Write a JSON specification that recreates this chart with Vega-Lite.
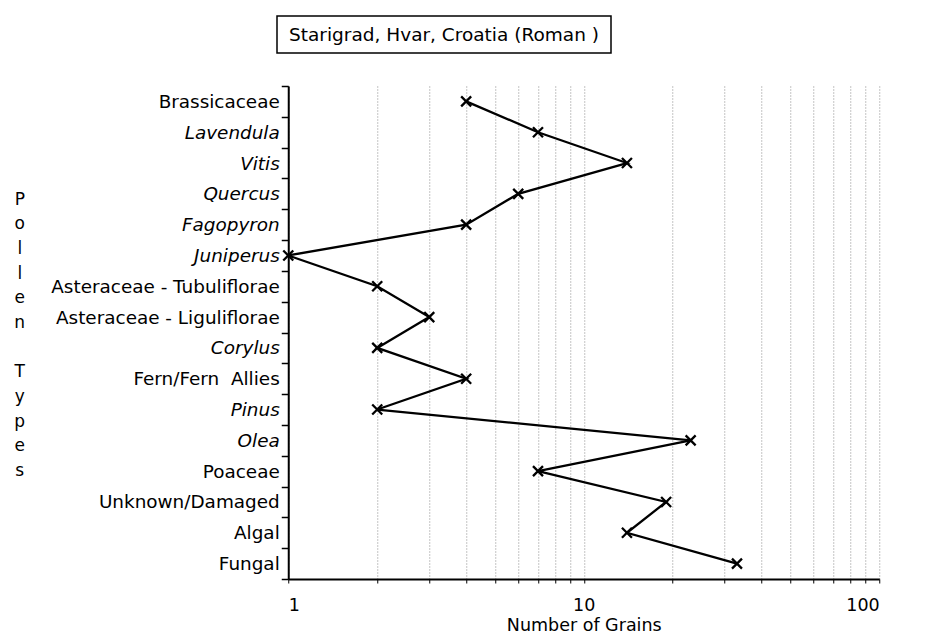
{
  "$schema": "https://vega.github.io/schema/vega-lite/v6.json",
  "background": "white",
  "padding": {"left": 13, "top": 15, "right": 10, "bottom": 0},
  "config": {"view": {"stroke": null}, "font": "DejaVu Sans"},
  "spacing": 23,
  "center": true,
  "vconcat": [
    {
      "spacing": 0,
      "hconcat": [
        {
          "width": 334,
          "height": 37,
          "view": {"stroke": "black", "strokeWidth": 1.5},
          "data": {"values": [{"t": "Starigrad, Hvar, Croatia (Roman )"}]},
          "mark": {"type": "text", "fontSize": 18.5, "font": "DejaVu Sans", "color": "black"},
          "encoding": {"text": {"field": "t", "type": "nominal"}}
        },
        {
          "width": 279,
          "height": 37,
          "data": {"values": [{"t": ""}]},
          "mark": {"type": "text", "opacity": 0},
          "encoding": {"text": {"field": "t", "type": "nominal"}}
        }
      ]
    },
    {
      "width": 591,
      "height": 493,
      "data": {
        "values": [
          {"rank": 1, "type": "Brassicaceae", "grains": 4},
          {"rank": 2, "type": "Lavendula", "grains": 7},
          {"rank": 3, "type": "Vitis", "grains": 14},
          {"rank": 4, "type": "Quercus", "grains": 6},
          {"rank": 5, "type": "Fagopyron", "grains": 4},
          {"rank": 6, "type": "Juniperus", "grains": 1},
          {"rank": 7, "type": "Asteraceae - Tubuliflorae", "grains": 2},
          {"rank": 8, "type": "Asteraceae - Liguliflorae", "grains": 3},
          {"rank": 9, "type": "Corylus", "grains": 2},
          {"rank": 10, "type": "Fern/Fern\u00a0 Allies", "grains": 4},
          {"rank": 11, "type": "Pinus", "grains": 2},
          {"rank": 12, "type": "Olea", "grains": 23},
          {"rank": 13, "type": "Poaceae", "grains": 7},
          {"rank": 14, "type": "Unknown/Damaged", "grains": 19},
          {"rank": 15, "type": "Algal", "grains": 14},
          {"rank": 16, "type": "Fungal", "grains": 33}
        ]
      },
      "encoding": {
        "x": {
          "field": "grains",
          "type": "quantitative",
          "scale": {"type": "log", "domain": [1, 100], "nice": false},
          "axis": {
            "values": [1, 2, 3, 4, 5, 6, 7, 8, 9, 10, 20, 30, 40, 50, 60, 70, 80, 90, 100],
            "labelExpr": "datum.value == 1 || datum.value == 10 || datum.value == 100 ? format(datum.value, 'd') : ''",
            "grid": true,
            "gridDash": [1, 2],
            "gridColor": "#888888",
            "gridWidth": 1,
            "domainColor": "black",
            "domainWidth": 2,
            "tickColor": "black",
            "tickSize": 4,
            "labelFontSize": 17.5,
            "labelColor": "black",
            "labelPadding": 13,
            "title": "Number of Grains",
            "titleFontSize": 17.5,
            "titleFontWeight": "normal",
            "titleColor": "black",
            "titlePadding": 3
          }
        },
        "y": {
          "field": "type",
          "type": "nominal",
          "sort": null,
          "bandPosition": 0.5,
          "scale": {"type": "band", "paddingInner": 0, "paddingOuter": 0},
          "axis": {
            "tickBand": "extent",
            "domainColor": "black",
            "domainWidth": 2,
            "tickColor": "black",
            "tickSize": 7,
            "tickWidth": 1.5,
            "labelFontSize": 18.4,
            "labelColor": "black",
            "labelPadding": 2,
            "labelLimit": 400,
            "labelFontStyle": {"expr": "indexof(['Lavendula','Vitis','Quercus','Fagopyron','Juniperus','Corylus','Pinus','Olea'], datum.value) >= 0 ? 'italic' : 'normal'"},
            "grid": false,
            "title": ["P", "o", "l", "l", "e", "n", "\u2800", "T", "y", "p", "e", "s"],
            "titleAngle": 0,
            "titleAlign": "center",
            "titleBaseline": "middle",
            "titleX": -269,
            "titleY": 113,
            "titleLineHeight": 24.7,
            "titleFontSize": 17,
            "titleFontWeight": "normal",
            "titleColor": "black"
          }
        },
        "order": {"field": "rank", "type": "quantitative"}
      },
      "layer": [
        {"mark": {"type": "line", "color": "black", "strokeWidth": 2.3}},
        {"mark": {"type": "point", "shape": "M-1,-1L1,1M1,-1L-1,1", "filled": false, "stroke": "black", "strokeWidth": 2.3, "size": 100, "opacity": 1}}
      ]
    }
  ]
}
